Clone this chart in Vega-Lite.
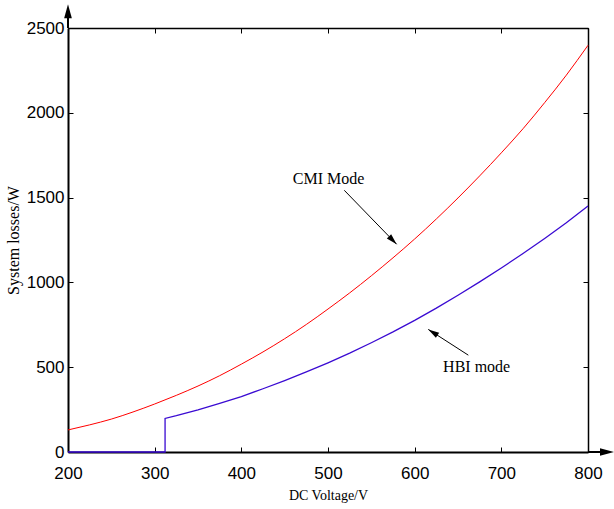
{
  "$schema": "https://vega.github.io/schema/vega-lite/v6.json",
  "width": 520,
  "height": 424,
  "autosize": {"type": "none"},
  "padding": {"left": 68, "top": 28, "right": 26, "bottom": 57},
  "background": "white",
  "config": {
    "view": {"stroke": "black", "strokeWidth": 1},
    "axis": {
      "grid": false,
      "labelFont": "Liberation Sans",
      "labelFontSize": 17,
      "labelColor": "black",
      "labelFlush": false,
      "labelOverlap": false,
      "format": "d",
      "tickColor": "black",
      "domainColor": "black",
      "titleFont": "Liberation Serif",
      "titleFontWeight": "normal",
      "titleColor": "black"
    }
  },
  "resolve": {"axis": {"x": "independent", "y": "independent"}},
  "layer": [
    {
      "data": {"values": [
        {"v": 200, "w": 130}, {"v": 225, "w": 160}, {"v": 250, "w": 194}, {"v": 275, "w": 236},
        {"v": 300, "w": 283}, {"v": 325, "w": 334}, {"v": 350, "w": 389}, {"v": 375, "w": 450},
        {"v": 400, "w": 518}, {"v": 425, "w": 590}, {"v": 450, "w": 668}, {"v": 475, "w": 752},
        {"v": 500, "w": 843}, {"v": 525, "w": 938}, {"v": 550, "w": 1039}, {"v": 575, "w": 1145},
        {"v": 600, "w": 1256}, {"v": 625, "w": 1374}, {"v": 650, "w": 1498}, {"v": 675, "w": 1628},
        {"v": 700, "w": 1764}, {"v": 725, "w": 1906}, {"v": 750, "w": 2060}, {"v": 775, "w": 2222},
        {"v": 800, "w": 2398}
      ]},
      "mark": {"type": "line", "color": "#ff0000", "strokeWidth": 1, "interpolate": "monotone"},
      "encoding": {
        "x": {"field": "v", "type": "quantitative",
              "scale": {"domain": [200, 800], "nice": false, "zero": false},
              "axis": {"orient": "bottom", "values": [200, 300, 400, 500, 600, 700, 800],
                       "tickSize": -5, "tickWidth": 1, "domainWidth": 2, "labelPadding": 18,
                       "labelBaseline": "top",
                       "title": "DC Voltage/V", "titleFontSize": 14, "titlePadding": 7}},
        "y": {"field": "w", "type": "quantitative",
              "scale": {"domain": [0, 2500], "nice": false},
              "axis": {"orient": "left", "values": [0, 500, 1000, 1500, 2000, 2500],
                       "tickSize": -5, "tickWidth": 1, "domainWidth": 2, "labelPadding": 9,
                       "title": "System losses/W", "titleFontSize": 16, "titlePadding": 5}}
      }
    },
    {
      "data": {"values": [
        {"i": 0, "v": 200, "w": 0}, {"i": 1, "v": 312, "w": 0}, {"i": 2, "v": 312, "w": 198},
        {"i": 3, "v": 325, "w": 214}, {"i": 4, "v": 350, "w": 248}, {"i": 5, "v": 375, "w": 286},
        {"i": 6, "v": 400, "w": 327}, {"i": 7, "v": 425, "w": 373}, {"i": 8, "v": 450, "w": 421},
        {"i": 9, "v": 475, "w": 472}, {"i": 10, "v": 500, "w": 526}, {"i": 11, "v": 525, "w": 583},
        {"i": 12, "v": 550, "w": 644}, {"i": 13, "v": 575, "w": 708}, {"i": 14, "v": 600, "w": 776},
        {"i": 15, "v": 625, "w": 848}, {"i": 16, "v": 650, "w": 924}, {"i": 17, "v": 675, "w": 1003},
        {"i": 18, "v": 700, "w": 1085}, {"i": 19, "v": 725, "w": 1170}, {"i": 20, "v": 750, "w": 1259},
        {"i": 21, "v": 775, "w": 1352}, {"i": 22, "v": 800, "w": 1450}
      ]},
      "mark": {"type": "line", "color": "#3a0ad2", "strokeWidth": 1.3},
      "encoding": {
        "x": {"field": "v", "type": "quantitative", "axis": null},
        "y": {"field": "w", "type": "quantitative", "axis": null},
        "order": {"field": "i", "type": "quantitative"}
      }
    },
    {
      "data": {"values": [{"v": 200, "w": 0}, {"v": 800, "w": 2500}]},
      "mark": {"type": "point", "opacity": 0},
      "encoding": {
        "x": {"field": "v", "type": "quantitative",
              "axis": {"orient": "top", "values": [200, 300, 400, 500, 600, 700, 800],
                       "labels": false, "title": null, "tickSize": -5, "domainWidth": 1.5}},
        "y": {"field": "w", "type": "quantitative",
              "axis": {"orient": "right", "values": [0, 500, 1000, 1500, 2000, 2500],
                       "labels": false, "title": null, "tickSize": -5, "domainWidth": 1.5}}
      }
    },
    {
      "data": {"values": [
        {"v": 500.6, "w": 1578, "t": "CMI Mode"},
        {"v": 671.5, "w": 473, "t": "HBI mode"}
      ]},
      "mark": {"type": "text", "font": "Liberation Serif", "fontSize": 16, "color": "black",
               "align": "center", "baseline": "alphabetic"},
      "encoding": {
        "x": {"field": "v", "type": "quantitative", "axis": null},
        "y": {"field": "w", "type": "quantitative", "axis": null},
        "text": {"field": "t"}
      }
    },
    {
      "data": {"values": [
        {"v": 518.8, "w": 1543, "v2": 579.2, "w2": 1225, "sw": 1},
        {"v": 661.9, "w": 571, "v2": 615.7, "w2": 723, "sw": 1},
        {"v": 200, "w": 2500, "v2": 200, "w2": 2565, "sw": 2},
        {"v": 800, "w": 0, "v2": 816, "w2": 0, "sw": 2}
      ]},
      "mark": {"type": "rule", "color": "black"},
      "encoding": {
        "x": {"field": "v", "type": "quantitative", "axis": null},
        "y": {"field": "w", "type": "quantitative", "axis": null},
        "x2": {"field": "v2"},
        "y2": {"field": "w2"},
        "strokeWidth": {"field": "sw", "type": "quantitative", "scale": null}
      }
    },
    {
      "data": {"values": [
        {"v": 579.2, "w": 1225, "a": 135.9, "s": 121},
        {"v": 615.7, "w": 723, "a": 302.7, "s": 121},
        {"v": 200, "w": 2640, "a": 0, "s": 196},
        {"v": 830, "w": 0, "a": 90, "s": 196}
      ]},
      "mark": {"type": "point", "shape": "M0,0L0.55,2L-0.55,2Z", "filled": true,
               "color": "black", "opacity": 1, "strokeWidth": 0},
      "encoding": {
        "x": {"field": "v", "type": "quantitative", "axis": null},
        "y": {"field": "w", "type": "quantitative", "axis": null},
        "angle": {"field": "a", "type": "quantitative", "scale": null},
        "size": {"field": "s", "type": "quantitative", "scale": null}
      }
    }
  ]
}
